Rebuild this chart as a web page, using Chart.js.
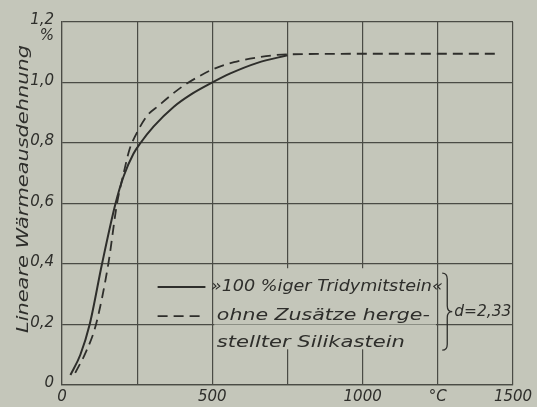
<!DOCTYPE html>
<html>
<head>
<meta charset="utf-8">
<script src="https://cdn.jsdelivr.net/npm/chart.js@4.4.1/dist/chart.umd.min.js"></script>
<style>
  body { margin: 0; background: #c4c6ba; }
  canvas { display: block; }
</style>
</head>
<body>
<canvas id="chart" width="537" height="407"></canvas>
<script>
// data (temperature in °C, expansion in %)
const tridymitTemp = [28, 61, 92, 133, 178, 205, 238, 261, 305, 372, 428, 494, 560, 650, 750];
const tridymitExp  = [0.033, 0.10, 0.20, 0.40, 0.60, 0.69, 0.765, 0.80, 0.855, 0.92, 0.96, 0.997, 1.03, 1.065, 1.09];

const silikaTemp = [44, 80, 113, 154, 183, 205, 225, 242, 283, 322, 361, 405, 450, 505, 572, 650, 750, 1000, 1250, 1455];
const silikaExp  = [0.04, 0.11, 0.20, 0.40, 0.60, 0.70, 0.78, 0.82, 0.89, 0.924, 0.957, 0.99, 1.017, 1.045, 1.067, 1.083, 1.093, 1.095, 1.095, 1.095];

const xTickLabels = ["0", "", "500", "", "1000", "°C", "1500"];
const yTickLabels = ["0", "0,2", "0,4", "0,6", "0,8", "1,0", "1,2"];
const yUnit = "%";

const legendRows = ["»100 %iger Tridymitstein«", "ohne Zusätze herge-", "stellter Silikastein"];
const braceLabel = "d=2,33";
const yTitle = "Lineare Wärmeausdehnung";

const ink = "#2e2e2b";
const paper = "#c4c6ba";
const gridInk = "#4a4b45";
const font = "'DejaVu Sans', sans-serif";

function toPoints(xs, ys) {
  return xs.map((x, i) => ({ x: x, y: ys[i] }));
}

// draw text squeezed or stretched to a given width
function fitText(ctx, text, x, y, w) {
  const m = ctx.measureText(text).width;
  ctx.save();
  ctx.translate(x, y);
  ctx.scale(w / m, 1);
  ctx.fillText(text, 0, 0);
  ctx.restore();
}

// legend box, brace, unit and axis title
const decorations = {
  id: "decorations",
  afterDatasetsDraw(chart) {
    const ctx = chart.ctx;
    const xs = chart.scales.x;
    const ys = chart.scales.y;
    ctx.save();

    // legend box hides the vertical grid behind the text
    const bx0 = xs.getPixelForValue(500) + 2;
    const bx1 = xs.getPixelForValue(1250) - 2;
    const by0 = ys.getPixelForValue(0.386);
    const by1 = ys.getPixelForValue(0.118);
    ctx.fillStyle = paper;
    ctx.fillRect(bx0, by0, bx1 - bx0, by1 - by0);
    // the 0,2 line still shows faintly through it
    ctx.strokeStyle = "rgba(74,75,69,0.45)";
    ctx.lineWidth = 1;
    ctx.beginPath();
    ctx.moveTo(bx0, ys.getPixelForValue(0.2));
    ctx.lineTo(bx1, ys.getPixelForValue(0.2));
    ctx.stroke();

    // sample lines
    const lx0 = xs.getPixelForValue(318);
    const lx1 = xs.getPixelForValue(477);
    ctx.strokeStyle = ink;
    ctx.lineWidth = 1.8;
    ctx.beginPath();
    ctx.moveTo(lx0, ys.getPixelForValue(0.324));
    ctx.lineTo(lx1, ys.getPixelForValue(0.324));
    ctx.stroke();
    ctx.setLineDash([10, 6]);
    ctx.beginPath();
    ctx.moveTo(lx0, ys.getPixelForValue(0.228));
    ctx.lineTo(lx1, ys.getPixelForValue(0.228));
    ctx.stroke();
    ctx.setLineDash([]);

    // legend text
    ctx.fillStyle = ink;
    ctx.textBaseline = "middle";
    ctx.font = "italic 15px " + font;
    const tx = xs.getPixelForValue(515);
    fitText(ctx, legendRows[0], tx - 6, ys.getPixelForValue(0.324), 232);
    fitText(ctx, legendRows[1], tx, ys.getPixelForValue(0.228), 213);
    fitText(ctx, legendRows[2], tx, ys.getPixelForValue(0.139), 188);

    // brace
    const bx = xs.getPixelForValue(1278);
    const top = ys.getPixelForValue(0.37);
    const bot = ys.getPixelForValue(0.115);
    const mid = (top + bot) / 2;
    ctx.lineWidth = 1.3;
    ctx.beginPath();
    ctx.moveTo(bx - 4, top);
    ctx.quadraticCurveTo(bx + 1, top, bx + 1, top + 6);
    ctx.lineTo(bx + 1, mid - 6);
    ctx.quadraticCurveTo(bx + 1, mid, bx + 6, mid);
    ctx.quadraticCurveTo(bx + 1, mid, bx + 1, mid + 6);
    ctx.lineTo(bx + 1, bot - 6);
    ctx.quadraticCurveTo(bx + 1, bot, bx - 4, bot);
    ctx.stroke();
    ctx.font = "italic 16px " + font;
    fitText(ctx, braceLabel, bx + 8, mid, 57);

    // unit under the top tick label
    ctx.font = "italic 15px " + font;
    ctx.textAlign = "right";
    ctx.fillText(yUnit, xs.left - 8, ys.getPixelForValue(1.2) + 14);

    // y axis title
    ctx.save();
    ctx.translate(24, 189);
    ctx.rotate(-Math.PI / 2);
    ctx.textAlign = "left";
    ctx.font = "italic 16px " + font;
    fitText(ctx, yTitle, -144, 0, 288);
    ctx.restore();

    ctx.restore();
  }
};

new Chart(document.getElementById("chart"), {
  type: "line",
  data: {
    datasets: [
      {
        data: toPoints(tridymitTemp, tridymitExp),
        borderColor: ink,
        borderWidth: 2,
        pointRadius: 0,
        cubicInterpolationMode: "monotone",
        fill: false
      },
      {
        data: toPoints(silikaTemp, silikaExp),
        borderColor: ink,
        borderWidth: 1.8,
        borderDash: [10, 6],
        pointRadius: 0,
        cubicInterpolationMode: "monotone",
        fill: false
      }
    ]
  },
  options: {
    responsive: false,
    animation: false,
    layout: { padding: { top: 22, right: 24, left: 0, bottom: 0 } },
    plugins: { legend: { display: false }, tooltip: { enabled: false } },
    scales: {
      x: {
        type: "linear",
        min: 0,
        max: 1500,
        afterFit: (s) => { s.height = 22; },
        afterBuildTicks: (s) => { s.ticks = xTickLabels.map((_, i) => ({ value: i * 250 })); },
        grid: { color: gridInk, lineWidth: 1.2, drawTicks: false },
        border: { color: gridInk, width: 1.2 },
        ticks: {
          padding: 3,
          maxRotation: 0,
          autoSkip: false,
          color: ink,
          font: { family: font, style: "italic", size: 15 },
          callback: (v, i) => xTickLabels[i]
        }
      },
      y: {
        type: "linear",
        min: 0,
        max: 1.2,
        afterFit: (s) => { s.width = 62; },
        afterBuildTicks: (s) => { s.ticks = yTickLabels.map((_, i) => ({ value: i * 0.2 })); },
        grid: { color: gridInk, lineWidth: 1.2, drawTicks: false },
        border: { color: gridInk, width: 1.2 },
        ticks: {
          padding: 8,
          labelOffset: -1.5,
          color: ink,
          autoSkip: false,
          font: { family: font, style: "italic", size: 15 },
          callback: (v, i) => yTickLabels[i]
        }
      }
    }
  },
  plugins: [decorations]
});
</script>
</body>
</html>
